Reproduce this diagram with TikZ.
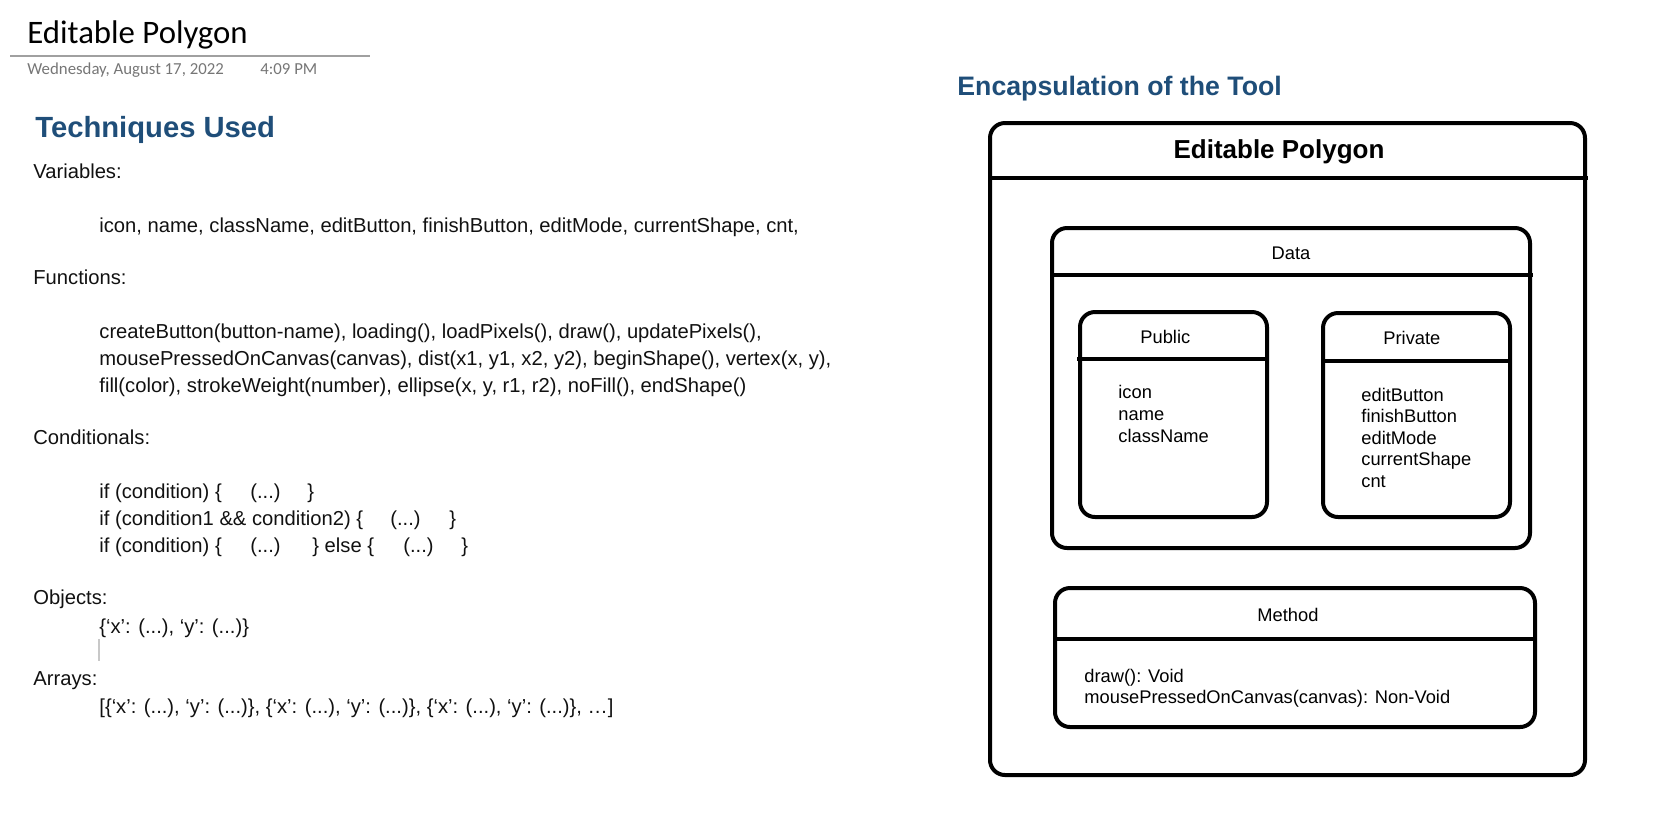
\documentclass[tikz,border=0pt]{standalone}
\usepackage{fontspec}
\setmainfont{Liberation Sans}
\newfontfamily\calib{Carlito}
\usetikzlibrary{fit}
\definecolor{headblue}{HTML}{1F4E79}
\definecolor{dategray}{HTML}{767676}
\definecolor{rulegray}{HTML}{A0A0A0}
\definecolor{cursorgray}{HTML}{C8C8C8}
\definecolor{bodytext}{HTML}{111111}
\begin{document}
\begin{tikzpicture}[x=0.5pt,y=-0.5pt,
  txt/.style={anchor=base west, inner sep=0pt, text=bodytext, font=\fontsize{10.1}{12}\selectfont},
  heading/.style={anchor=base west, inner sep=0pt, text=headblue, font=\fontsize{14.6}{17}\selectfont\bfseries},
  boxtxt/.style={anchor=base west, inner sep=0pt, font=\fontsize{9.15}{11}\selectfont},
  boxtitle/.style={anchor=base, inner sep=0pt, font=\fontsize{9.15}{11}\selectfont},
  ubox/.style={draw, line width=2pt, rounded corners=7.5pt, inner sep=0pt},
  divider/.style={line width=2pt}
]
\useasboundingbox (0,0) rectangle (1672,827);

% ---------- page header ----------
\node[anchor=base west, inner sep=0pt, font=\calib\fontsize{16.4}{19}\selectfont] (pagetitle) at (27,43) {Editable Polygon};
\coordinate (ruleL) at (10,56);
\coordinate (ruleR) at (370,56);
\draw[rulegray, line width=0.75pt] (ruleL) -- (ruleR);
\node[anchor=base west, inner sep=0pt, text=dategray, font=\calib\fontsize{8.4}{10}\selectfont] (date) at (27,74) {Wednesday, August 17, 2022};
\node[anchor=base west, inner sep=0pt, text=dategray, font=\calib\fontsize{8.4}{10}\selectfont] (time) at (260,74) {4:09 PM};

% ---------- left column ----------
\node[heading] (tech) at (35,137) {Techniques Used};
\node[txt] (varlbl) at (33,178) {Variables:};
\node[txt] (varl) at (99,232) {icon, name, className, editButton, finishButton, editMode, currentShape, cnt,};
\node[txt] (funlbl) at (33,284) {Functions:};
\node[txt] (fun1) at (99,338.6) {createButton(button-name), loading(), loadPixels(), draw(), updatePixels(),};
\node[txt] (fun2) at (99,365) {mousePressedOnCanvas(canvas), dist(x1, y1, x2, y2), beginShape(), vertex(x, y),};
\node[txt] (fun3) at (99,392) {fill(color), strokeWeight(number), ellipse(x, y, r1, r2), noFill(), endShape()};
\node[txt] (condlbl) at (33,444) {Conditionals:};
\node[txt] (c1a) at (99,498.6) {if (condition) \{};
\node[txt] (c1b) at (250,498.6) {(...)};
\node[txt] (c1c) at (307,498.6) {\}};
\node[txt] (c2a) at (99,525) {if (condition1 \&\& condition2) \{};
\node[txt] (c2b) at (390,525) {(...)};
\node[txt] (c2c) at (449,525) {\}};
\node[txt] (c3a) at (99,552) {if (condition) \{};
\node[txt] (c3b) at (250,552) {(...)};
\node[txt] (c3c) at (312,552) {\} else \{};
\node[txt] (c3d) at (403,552) {(...)};
\node[txt] (c3e) at (461,552) {\}};
\node[txt] (objlbl) at (33,604) {Objects:};
\node[txt] (objl) at (99,633) {\{‘x’: (...), ‘y’: (...)\}};
\coordinate (curT) at (99,639);
\coordinate (curB) at (99,661);
\draw[cursorgray, line width=1pt] (curT) -- (curB);
\node[txt] (arrlbl) at (33,685) {Arrays:};
\node[txt] (arrl) at (99,713) {[\{‘x’: (...), ‘y’: (...)\}, \{‘x’: (...), ‘y’: (...)\}, \{‘x’: (...), ‘y’: (...)\}, …]};

% ---------- right: encapsulation diagram ----------
\node[anchor=base west, inner sep=0pt, text=headblue, font=\fontsize{13.35}{16}\selectfont\bfseries] (enc) at (957,95) {Encapsulation of the Tool};

\coordinate (oTL) at (990,123);  \coordinate (oBR) at (1585,775);
\node[ubox, fit=(oTL)(oBR)] (outer) {};
\draw[divider] (990,178) -- (1588,178);
\node[anchor=base, inner sep=0pt, font=\fontsize{13}{16}\selectfont\bfseries] (otitle) at (1279,158) {Editable Polygon};

\coordinate (dTL) at (1052,228); \coordinate (dBR) at (1530,548);
\node[ubox, fit=(dTL)(dBR)] (data) {};
\draw[divider] (1052,275) -- (1533,275);
\node[boxtitle] (dtitle) at (1291,259) {Data};

\coordinate (pTL) at (1080,312); \coordinate (pBR) at (1267,517);
\node[ubox, fit=(pTL)(pBR)] (public) {};
\draw[divider] (1077,359) -- (1269,359);
\node[boxtxt] (ptitle) at (1140,343) {Public};
\node[boxtxt] (p1) at (1118,398) {icon};
\node[boxtxt] (p2) at (1118,420) {name};
\node[boxtxt] (p3) at (1118,442) {className};

\coordinate (rTL) at (1323,313); \coordinate (rBR) at (1510,517);
\node[ubox, fit=(rTL)(rBR)] (private) {};
\draw[divider] (1323,361) -- (1510,361);
\node[boxtxt] (rtitle) at (1383,344) {Private};
\node[boxtxt] (r1) at (1361,401) {editButton};
\node[boxtxt] (r2) at (1361,422) {finishButton};
\node[boxtxt] (r3) at (1361,444) {editMode};
\node[boxtxt] (r4) at (1361,465) {currentShape};
\node[boxtxt] (r5) at (1361,487) {cnt};

\coordinate (mTL) at (1055,588); \coordinate (mBR) at (1535,727);
\node[ubox, fit=(mTL)(mBR)] (method) {};
\draw[divider] (1055,639) -- (1535,639);
\node[boxtxt] (mtitle) at (1257,621) {Method};
\node[boxtxt] (m1) at (1084,682) {draw(): Void};
\node[boxtxt] (m2) at (1084,703) {mousePressedOnCanvas(canvas): Non-Void};
\end{tikzpicture}
\end{document}
